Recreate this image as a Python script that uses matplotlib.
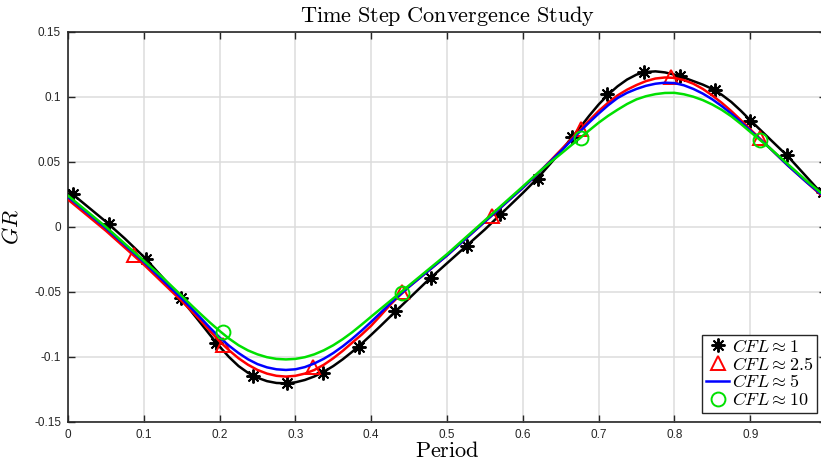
import matplotlib
matplotlib.use('Agg')
import matplotlib.pyplot as plt
from matplotlib.lines import Line2D

plt.rcParams['mathtext.fontset'] = 'cm'
plt.rcParams['font.family'] = 'Liberation Sans'

# period grid for the curves (finer around the trough and the crest)
period = [0.000, 0.025, 0.050, 0.075, 0.100, 0.125, 0.150,
          0.1625, 0.175, 0.1875, 0.200, 0.2125, 0.225, 0.2375, 0.250, 0.2625, 0.275, 0.2875,
          0.300, 0.3125, 0.325, 0.3375, 0.350, 0.3625, 0.375, 0.3875, 0.400, 0.4125, 0.425,
          0.4375, 0.450,
          0.475, 0.500, 0.525, 0.550, 0.575, 0.600,
          0.6125, 0.625, 0.6375, 0.650, 0.6625, 0.675, 0.6875, 0.700, 0.7125, 0.725, 0.7375,
          0.750, 0.7625, 0.775, 0.7875, 0.800, 0.8125, 0.825, 0.8375, 0.850, 0.8625, 0.875,
          0.8875, 0.900, 0.9125, 0.925,
          0.950, 0.975, 1.000]

gr_cfl1 = [0.028, 0.016, 0.004, -0.009, -0.023, -0.039, -0.056,
           -0.0649, -0.074, -0.0832, -0.092, -0.1001, -0.107, -0.1122, -0.116, -0.1186, -0.120,
           -0.1203, -0.1195, -0.1177, -0.115, -0.1114, -0.107, -0.1018, -0.096, -0.0897, -0.083,
           -0.0761, -0.069, -0.062, -0.055,
           -0.041, -0.028, -0.015, -0.002, 0.012, 0.026,
           0.0333, 0.041, 0.0493, 0.058, 0.0669, 0.076, 0.0853, 0.094, 0.1016, 0.108, 0.1132,
           0.117, 0.119, 0.1195, 0.1187, 0.117, 0.1147, 0.112, 0.1093, 0.106, 0.1015, 0.096,
           0.0893, 0.082, 0.075, 0.068,
           0.054, 0.038, 0.022]
gr_cfl25 = [0.021, 0.009, -0.003, -0.016, -0.029, -0.043, -0.057,
            -0.0644, -0.072, -0.0801, -0.088, -0.0949, -0.101, -0.106, -0.110, -0.1128, -0.1145,
            -0.1151, -0.1145, -0.1128, -0.110, -0.106, -0.101, -0.0953, -0.089, -0.0828, -0.076,
            -0.0681, -0.060, -0.0528, -0.046,
            -0.034, -0.022, -0.009, 0.004, 0.017, 0.030,
            0.0369, 0.044, 0.0514, 0.059, 0.0665, 0.074, 0.0817, 0.089, 0.0954, 0.101, 0.1054,
            0.109, 0.112, 0.114, 0.1148, 0.1145, 0.1128, 0.110, 0.106, 0.101, 0.0953, 0.089,
            0.0821, 0.075, 0.068, 0.061,
            0.047, 0.034, 0.021]
gr_cfl5 = [0.023, 0.011, -0.001, -0.014, -0.027, -0.041, -0.055,
           -0.0624, -0.070, -0.0777, -0.085, -0.0914, -0.097, -0.1018, -0.1055, -0.108, -0.1095,
           -0.110, -0.1095, -0.1078, -0.105, -0.1014, -0.097, -0.0918, -0.086, -0.0797, -0.073,
           -0.066, -0.059, -0.0524, -0.046,
           -0.034, -0.022, -0.009, 0.004, 0.017, 0.030,
           0.0369, 0.044, 0.0509, 0.058, 0.0655, 0.073, 0.0802, 0.087, 0.0934, 0.099, 0.103,
           0.106, 0.1084, 0.110, 0.1108, 0.1105, 0.1088, 0.106, 0.1024, 0.098, 0.0928, 0.087,
           0.0806, 0.074, 0.0676, 0.061,
           0.047, 0.034, 0.022]
gr_cfl10 = [0.024, 0.012, 0.000, -0.013, -0.026, -0.039, -0.053,
            -0.0601, -0.067, -0.0737, -0.080, -0.0859, -0.091, -0.095, -0.098, -0.1002, -0.1015,
            -0.1019, -0.1015, -0.1002, -0.098, -0.0949, -0.091, -0.0863, -0.081, -0.0751, -0.069,
            -0.063, -0.057, -0.051, -0.045,
            -0.033, -0.021, -0.008, 0.005, 0.018, 0.031,
            0.0376, 0.044, 0.0501, 0.056, 0.062, 0.068, 0.0741, 0.080, 0.0853, 0.090, 0.0944,
            0.098, 0.1004, 0.102, 0.1029, 0.103, 0.1019, 0.100, 0.0974, 0.094, 0.0899, 0.085,
            0.0792, 0.073, 0.067, 0.061,
            0.048, 0.035, 0.023]

# marker samples
mk1_x = [0.0066, 0.054, 0.103, 0.149, 0.195, 0.244, 0.289, 0.336, 0.384, 0.431, 0.479,
         0.526, 0.570, 0.620, 0.665, 0.711, 0.760, 0.807, 0.854, 0.900, 0.949, 0.996]
mk1_y = [0.025, 0.002, -0.025, -0.055, -0.089, -0.115, -0.120, -0.112, -0.092, -0.065, -0.039,
         -0.015, 0.010, 0.037, 0.069, 0.102, 0.119, 0.116, 0.105, 0.081, 0.055, 0.027]
mk25_x = [0.087, 0.205, 0.323, 0.441, 0.559, 0.677, 0.795, 0.913]
mk25_y = [-0.022, -0.091, -0.108, -0.050, 0.008, 0.075, 0.115, 0.068]
mk10_x = [0.205, 0.441, 0.677, 0.913]
mk10_y = [-0.081, -0.051, 0.068, 0.067]

xticks = [0, 0.1, 0.2, 0.3, 0.4, 0.5, 0.6, 0.7, 0.8, 0.9, 1]
xtick_labels = ['0', '0.1', '0.2', '0.3', '0.4', '0.5', '0.6', '0.7', '0.8', '0.9', '']
yticks = [-0.15, -0.1, -0.05, 0, 0.05, 0.1, 0.15]
ytick_labels = ['-0.15', '-0.1', '-0.05', '0', '0.05', '0.1', '0.15']

fig = plt.figure(figsize=(8.21, 4.68), dpi=100)
ax = fig.add_axes([0.0828, 0.0983, 0.9233, 0.834])

lw = 1.8
green = '#00e000'
ax.plot(period, gr_cfl1, color='black', lw=lw, zorder=3)
ax.plot(mk1_x, mk1_y, ls='none', marker=(8, 2, 0), ms=10, mew=1.4, color='black', zorder=3)
ax.plot(period, gr_cfl25, color='red', lw=lw, zorder=3)
ax.plot(mk25_x, mk25_y, ls='none', marker='^', ms=10, mew=1.4, mfc='none', mec='red', zorder=3)
ax.plot(period, gr_cfl5, color='blue', lw=lw, zorder=3)
ax.plot(period, gr_cfl10, color=green, lw=lw, zorder=3)
ax.plot(mk10_x, mk10_y, ls='none', marker='o', ms=10, mew=1.4, mfc='none', mec=green, zorder=3)

ax.set_xlim(0, 1)
ax.set_ylim(-0.15, 0.15)
ax.set_xticks(xticks)
ax.set_xticklabels(xtick_labels)
ax.set_yticks(yticks)
ax.set_yticklabels(ytick_labels)
ax.tick_params(direction='in', top=True, right=True, length=5, width=1,
               labelsize=8.5, colors='#262626', pad=5)
ax.grid(True, color='#dcdcdc', lw=1.1)
ax.set_axisbelow(True)
for sp in ax.spines.values():
    sp.set_color('#262626')
    sp.set_linewidth(1.2)

ax.set_title(r'$\mathrm{Time\ Step\ Convergence\ Study}$', fontsize=16, pad=7)
ax.set_xlabel(r'$\mathrm{Period}$', fontsize=16, labelpad=0)
ax.set_ylabel(r'$GR$', fontsize=16, labelpad=8)

handles = [
    Line2D([], [], ls='none', marker=(8, 2, 0), ms=10, mew=1.4, color='black'),
    Line2D([], [], ls='none', marker='^', ms=10, mew=1.4, mfc='none', mec='red'),
    Line2D([], [], color='blue', lw=lw),
    Line2D([], [], ls='none', marker='o', ms=10, mew=1.4, mfc='none', mec=green),
]
labels = [r'$CFL \approx 1$', r'$CFL \approx 2.5$', r'$CFL \approx 5$', r'$CFL \approx 10$']
leg = ax.legend(handles, labels, loc='lower right', bbox_to_anchor=(817 / 821, 1 - 413 / 468),
                bbox_transform=fig.transFigure, fontsize=13, handlelength=1.3, handletextpad=0.15,
                labelspacing=0.05, borderpad=0.2, borderaxespad=0, fancybox=False,
                framealpha=1)
leg.get_frame().set_edgecolor('#262626')
leg.get_frame().set_linewidth(1.0)

fig.savefig('out.png', dpi=100)
